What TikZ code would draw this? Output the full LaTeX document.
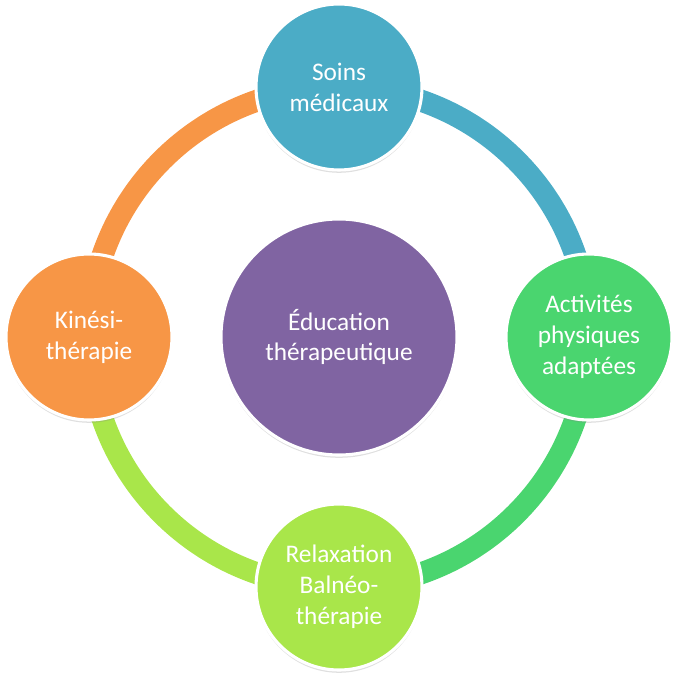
\documentclass[tikz,border=0pt]{standalone}
\usepackage{fontspec}
\setmainfont{Carlito}
\usepackage{xcolor,tikz}
\usetikzlibrary{shadows,backgrounds}

\definecolor{soinsblue}{HTML}{4BACC6}
\definecolor{activgreen}{HTML}{4AD56F}
\definecolor{relaxlime}{HTML}{A9E64A}
\definecolor{kineorange}{HTML}{F79646}
\definecolor{eduviolet}{HTML}{8064A2}

\tikzset{
  pole/.style={circle, draw=white, line width=2.2pt, minimum size=4.15cm,
    text=white, align=center, font=\fontsize{18}{22}\selectfont,
    drop shadow={opacity=0.25, shadow xshift=0pt, shadow yshift=-2pt}},
  ring/.style={line width=0.55cm}
}

\begin{document}
\begin{tikzpicture}
\useasboundingbox (-8.475,-8.55) rectangle (8.375,8.425);

\node[pole, fill=eduviolet, minimum size=5.9cm] (edu) at (0,0)
  {\'Education\\th\'erapeutique};

\node[pole, fill=soinsblue] (soins) at (90:6.25) {Soins\\m\'edicaux};
\node[pole, fill=activgreen] (activ) at (0:6.25) {Activit\'es\\physiques\\adapt\'ees};
\node[pole, fill=relaxlime] (relax) at (270:6.25) {Relaxation\\Baln\'eo-\\th\'erapie};
\node[pole, fill=kineorange] (kine) at (180:6.25) {Kin\'esi-\\th\'erapie};

% ring between the poles
\begin{scope}[on background layer]
\draw[ring, soinsblue] (soins.center) to[bend left=45] (activ.center);
\draw[ring, activgreen] (activ.center) to[bend left=45] (relax.center);
\draw[ring, relaxlime] (relax.center) to[bend left=45] (kine.center);
\draw[ring, kineorange] (kine.center) to[bend left=45] (soins.center);
\end{scope}
\end{tikzpicture}
\end{document}
